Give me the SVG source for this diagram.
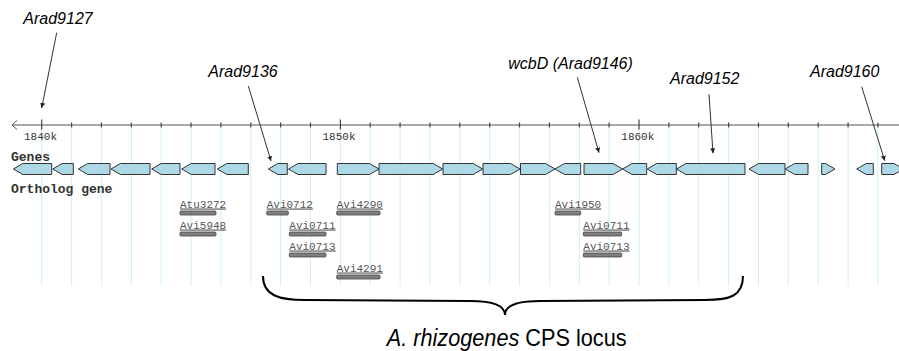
<svg xmlns="http://www.w3.org/2000/svg" width="899" height="351" viewBox="0 0 899 351">
<defs>
<style>
.grid{stroke:#cdf1f5;stroke-width:1}
.axis{stroke:#555;stroke-width:1;fill:none}
.tick{stroke:#444;stroke-width:1.2}
.axlbl{font-family:"Liberation Mono",monospace;font-size:11px;fill:#333}
.trk{font-family:"Liberation Mono",monospace;font-size:13px;font-weight:bold;fill:#333}
.gene{fill:#add8e6;stroke:#333;stroke-width:1;stroke-linejoin:miter}
.orth{font-family:"Liberation Mono",monospace;font-size:11px;fill:#555;text-decoration:underline}
.bar{fill:#7f7f7f;stroke:#444;stroke-width:0.8}
.ann{font-family:"Liberation Sans",Arial,sans-serif;font-size:16px;font-style:italic;fill:#000}
.lead{stroke:#333;stroke-width:1;fill:none}
.brace{stroke:#000;stroke-width:2;fill:none}
.cap{font-family:"Liberation Sans",Arial,sans-serif;font-size:24px;fill:#000}
</style>
<marker id="ah" viewBox="0 0 6 6" refX="6" refY="3" markerWidth="5" markerHeight="5" orient="auto" markerUnits="userSpaceOnUse">
<path d="M0,0 L6,3 L0,6 z" fill="#222"/>
</marker>
</defs>

<g id="gridlines">
<line class="grid" x1="41.7" y1="128" x2="41.7" y2="286"/>
<line class="grid" x1="71.6" y1="128" x2="71.6" y2="286"/>
<line class="grid" x1="101.4" y1="128" x2="101.4" y2="286"/>
<line class="grid" x1="131.3" y1="128" x2="131.3" y2="286"/>
<line class="grid" x1="161.2" y1="128" x2="161.2" y2="286"/>
<line class="grid" x1="191" y1="128" x2="191" y2="286"/>
<line class="grid" x1="220.9" y1="128" x2="220.9" y2="286"/>
<line class="grid" x1="250.8" y1="128" x2="250.8" y2="286"/>
<line class="grid" x1="280.6" y1="128" x2="280.6" y2="286"/>
<line class="grid" x1="310.5" y1="128" x2="310.5" y2="286"/>
<line class="grid" x1="340.4" y1="128" x2="340.4" y2="286"/>
<line class="grid" x1="370.2" y1="128" x2="370.2" y2="286"/>
<line class="grid" x1="400.1" y1="128" x2="400.1" y2="286"/>
<line class="grid" x1="430" y1="128" x2="430" y2="286"/>
<line class="grid" x1="459.8" y1="128" x2="459.8" y2="286"/>
<line class="grid" x1="489.7" y1="128" x2="489.7" y2="286"/>
<line class="grid" x1="519.5" y1="128" x2="519.5" y2="286"/>
<line class="grid" x1="549.4" y1="128" x2="549.4" y2="286"/>
<line class="grid" x1="579.3" y1="128" x2="579.3" y2="286"/>
<line class="grid" x1="609.1" y1="128" x2="609.1" y2="286"/>
<line class="grid" x1="639" y1="128" x2="639" y2="286"/>
<line class="grid" x1="668.9" y1="128" x2="668.9" y2="286"/>
<line class="grid" x1="698.7" y1="128" x2="698.7" y2="286"/>
<line class="grid" x1="728.6" y1="128" x2="728.6" y2="286"/>
<line class="grid" x1="758.5" y1="128" x2="758.5" y2="286"/>
<line class="grid" x1="788.3" y1="128" x2="788.3" y2="286"/>
<line class="grid" x1="818.2" y1="128" x2="818.2" y2="286"/>
<line class="grid" x1="848.1" y1="128" x2="848.1" y2="286"/>
<line class="grid" x1="877.9" y1="128" x2="877.9" y2="286"/>
</g>

<g id="axis">
<line class="axis" x1="12" y1="125" x2="899" y2="125"/>
<polyline class="axis" points="17,120.5 12,125 17,129.5"/>
<line class="tick" x1="41.7" y1="119.5" x2="41.7" y2="129.5"/>
<line class="tick" x1="71.6" y1="122.5" x2="71.6" y2="127.5"/>
<line class="tick" x1="101.4" y1="122.5" x2="101.4" y2="127.5"/>
<line class="tick" x1="131.3" y1="122.5" x2="131.3" y2="127.5"/>
<line class="tick" x1="161.2" y1="122.5" x2="161.2" y2="127.5"/>
<line class="tick" x1="191" y1="122.5" x2="191" y2="127.5"/>
<line class="tick" x1="220.9" y1="122.5" x2="220.9" y2="127.5"/>
<line class="tick" x1="250.8" y1="122.5" x2="250.8" y2="127.5"/>
<line class="tick" x1="280.6" y1="122.5" x2="280.6" y2="127.5"/>
<line class="tick" x1="310.5" y1="122.5" x2="310.5" y2="127.5"/>
<line class="tick" x1="340.4" y1="119.5" x2="340.4" y2="129.5"/>
<line class="tick" x1="370.2" y1="122.5" x2="370.2" y2="127.5"/>
<line class="tick" x1="400.1" y1="122.5" x2="400.1" y2="127.5"/>
<line class="tick" x1="430" y1="122.5" x2="430" y2="127.5"/>
<line class="tick" x1="459.8" y1="122.5" x2="459.8" y2="127.5"/>
<line class="tick" x1="489.7" y1="122.5" x2="489.7" y2="127.5"/>
<line class="tick" x1="519.5" y1="122.5" x2="519.5" y2="127.5"/>
<line class="tick" x1="549.4" y1="122.5" x2="549.4" y2="127.5"/>
<line class="tick" x1="579.3" y1="122.5" x2="579.3" y2="127.5"/>
<line class="tick" x1="609.1" y1="122.5" x2="609.1" y2="127.5"/>
<line class="tick" x1="639" y1="119.5" x2="639" y2="129.5"/>
<line class="tick" x1="668.9" y1="122.5" x2="668.9" y2="127.5"/>
<line class="tick" x1="698.7" y1="122.5" x2="698.7" y2="127.5"/>
<line class="tick" x1="728.6" y1="122.5" x2="728.6" y2="127.5"/>
<line class="tick" x1="758.5" y1="122.5" x2="758.5" y2="127.5"/>
<line class="tick" x1="788.3" y1="122.5" x2="788.3" y2="127.5"/>
<line class="tick" x1="818.2" y1="122.5" x2="818.2" y2="127.5"/>
<line class="tick" x1="848.1" y1="122.5" x2="848.1" y2="127.5"/>
<line class="tick" x1="877.9" y1="122.5" x2="877.9" y2="127.5"/>
<text class="axlbl" x="24" y="139.5">1840k</text>
<text class="axlbl" x="322.5" y="139.5">1850k</text>
<text class="axlbl" x="621.3" y="139.5">1860k</text>
</g>

<g id="track-labels">
<text class="trk" x="11" y="161">Genes</text>
<text class="trk" x="11" y="193">Ortholog gene</text>
</g>

<g id="genes">
<polygon id="g1" class="gene" points="13.3,169 22.8,163.5 51.7,163.5 51.7,174.5 22.8,174.5"/>
<polygon id="g2" class="gene" points="52.7,169 62.2,163.5 73.3,163.5 73.3,174.5 62.2,174.5"/>
<polygon id="g3" class="gene" points="78.3,169 87.8,163.5 110,163.5 110,174.5 87.8,174.5"/>
<polygon id="g4" class="gene" points="111,169 120.5,163.5 150,163.5 150,174.5 120.5,174.5"/>
<polygon id="g5" class="gene" points="151.7,169 161.2,163.5 180,163.5 180,174.5 161.2,174.5"/>
<polygon id="g6" class="gene" points="181.7,169 191.2,163.5 215,163.5 215,174.5 191.2,174.5"/>
<polygon id="g7" class="gene" points="217.3,169 226.8,163.5 248.3,163.5 248.3,174.5 226.8,174.5"/>
<polygon id="g8" class="gene" points="268.3,169 277.8,163.5 287.3,163.5 287.3,174.5 277.8,174.5"/>
<polygon id="g9" class="gene" points="288.5,169 298,163.5 326,163.5 326,174.5 298,174.5"/>
<polygon id="g10" class="gene" points="337.3,163.5 369.5,163.5 379,169 369.5,174.5 337.3,174.5"/>
<polygon id="g11" class="gene" points="379,163.5 433.2,163.5 442.7,169 433.2,174.5 379,174.5"/>
<polygon id="g12" class="gene" points="443,163.5 473.2,163.5 482.7,169 473.2,174.5 443,174.5"/>
<polygon id="g13" class="gene" points="483,163.5 510.5,163.5 520,169 510.5,174.5 483,174.5"/>
<polygon id="g14" class="gene" points="520.5,163.5 545.5,163.5 555,169 545.5,174.5 520.5,174.5"/>
<polygon id="g15" class="gene" points="555,169 564.5,163.5 580.7,163.5 580.7,174.5 564.5,174.5"/>
<polygon id="g16" class="gene" points="584,163.5 613,163.5 622.5,169 613,174.5 584,174.5"/>
<polygon id="g17" class="gene" points="622.5,169 632,163.5 646.7,163.5 646.7,174.5 632,174.5"/>
<polygon id="g18" class="gene" points="647.2,169 656.7,163.5 676.3,163.5 676.3,174.5 656.7,174.5"/>
<polygon id="g19" class="gene" points="676.5,169 686,163.5 745,163.5 745,174.5 686,174.5"/>
<polygon id="g20" class="gene" points="749,169 758.5,163.5 785,163.5 785,174.5 758.5,174.5"/>
<polygon id="g21" class="gene" points="785.2,169 794.7,163.5 808,163.5 808,174.5 794.7,174.5"/>
<polygon id="g22" class="gene" points="821.7,163.5 825.5,163.5 835,169 825.5,174.5 821.7,174.5"/>
<polygon id="g23" class="gene" points="856.7,169 866.2,163.5 873.3,163.5 873.3,174.5 866.2,174.5"/>
<polygon id="g24" class="gene" points="881.7,163.5 894,163.5 903.5,169 894,174.5 881.7,174.5"/>
</g>

<g id="orthologs">
<g id="o-atu3272"><text class="orth" x="180" y="207.5">Atu3272</text><rect class="bar" x="180" y="211" width="36" height="4" rx="1"/></g>
<g id="o-avi5948"><text class="orth" x="180" y="228.5">Avi5948</text><rect class="bar" x="180" y="232" width="36" height="4" rx="1"/></g>
<g id="o-avi0712"><text class="orth" x="266.7" y="207.5">Avi0712</text><rect class="bar" x="266.7" y="211" width="21.6" height="4" rx="1"/></g>
<g id="o-avi0711a"><text class="orth" x="289.3" y="228.5">Avi0711</text><rect class="bar" x="289.3" y="232" width="36.7" height="4" rx="1"/></g>
<g id="o-avi0713a"><text class="orth" x="289.3" y="249.5">Avi0713</text><rect class="bar" x="289.3" y="253" width="36.7" height="4" rx="1"/></g>
<g id="o-avi4290"><text class="orth" x="336.7" y="207.5">Avi4290</text><rect class="bar" x="336.7" y="211" width="43.3" height="4" rx="1"/></g>
<g id="o-avi4291"><text class="orth" x="336.7" y="271.5">Avi4291</text><rect class="bar" x="336.7" y="275" width="43.3" height="4" rx="1"/></g>
<g id="o-avi1950"><text class="orth" x="555" y="207.5">Avi1950</text><rect class="bar" x="555" y="211" width="25.7" height="4" rx="1"/></g>
<g id="o-avi0711b"><text class="orth" x="583.3" y="228.5">Avi0711</text><rect class="bar" x="583.3" y="232" width="38.4" height="4" rx="1"/></g>
<g id="o-avi0713b"><text class="orth" x="583.3" y="249.5">Avi0713</text><rect class="bar" x="583.3" y="253" width="38.4" height="4" rx="1"/></g>
</g>

<g id="annotations">
<g id="a-arad9127"><text class="ann" x="23.3" y="23.5">Arad9127</text></g>
<g id="a-arad9136"><text class="ann" x="208.3" y="77">Arad9136</text></g>
<g id="a-wcbD"><text class="ann" x="508.3" y="68.5">wcbD (Arad9146)</text></g>
<g id="a-arad9152"><text class="ann" x="670" y="83.5">Arad9152</text></g>
<g id="a-arad9160"><text class="ann" x="810" y="76.5">Arad9160</text></g>
</g>

<g id="connectors">
<line class="lead" x1="56.7" y1="32.7" x2="41.7" y2="108" marker-end="url(#ah)"/>
<line class="lead" x1="248.3" y1="86" x2="271" y2="161" marker-end="url(#ah)"/>
<line class="lead" x1="577.3" y1="77.3" x2="599" y2="152.7" marker-end="url(#ah)"/>
<line class="lead" x1="709" y1="94.3" x2="713" y2="153.3" marker-end="url(#ah)"/>
<line class="lead" x1="861.7" y1="86.7" x2="884.7" y2="160.7" marker-end="url(#ah)"/>
</g>

<g id="cps-locus">
<path class="brace" d="M263,276 C263,296 280,300 305,300 L470,301 C495,301 505,306 505,315 C505,306 515,301 540,301 L705,300 C730,300 743,296 743,276"/>
<text class="cap" x="386.7" y="346" font-style="italic" textLength="132.6" lengthAdjust="spacingAndGlyphs">A. rhizogenes</text>
<text class="cap" x="525.3" y="346" textLength="101.3" lengthAdjust="spacingAndGlyphs">CPS locus</text>
</g>
</svg>
